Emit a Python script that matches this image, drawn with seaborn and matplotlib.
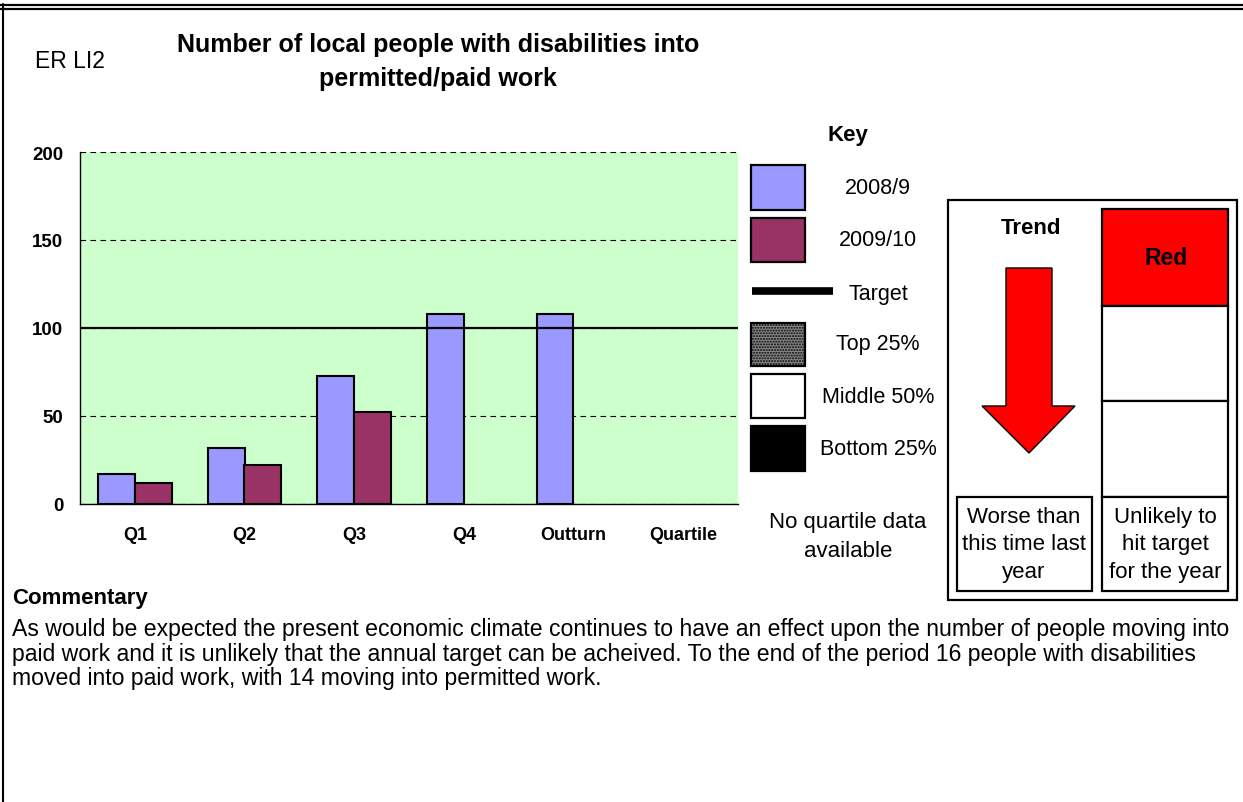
import numpy as np
import pandas as pd
import matplotlib
matplotlib.use("Agg")
import matplotlib.pyplot as plt
from matplotlib.patches import Rectangle, Polygon
import seaborn as sns

# ---- data -------------------------------------------------------------
categories = ["Q1", "Q2", "Q3", "Q4", "Outturn", "Quartile"]
periods = ["Q1", "Q2", "Q3", "Q4", "Outturn"]
years = ["2008/9", "2009/10"]
values_2008_9 = [17, 32, 73, 108, 108]
values_2009_10 = [12, 22, 52, np.nan, np.nan]
target = 100
y_ticks = [0, 50, 100, 150, 200]

key_labels = ["2008/9", "2009/10", "Target", "Top 25%", "Middle 50%", "Bottom 25%"]

# ---- style ------------------------------------------------------------
sns.set_style("white")
plt.rcParams["font.family"] = ["Liberation Sans", "DejaVu Sans"]
plt.rcParams["text.color"] = "black"
plt.rcParams["xtick.color"] = "black"
plt.rcParams["ytick.color"] = "black"
plt.rcParams["axes.labelcolor"] = "black"
plt.rcParams["hatch.linewidth"] = 1.0

BLUE = "#9999FF"
MAROON = "#993366"
GREEN = "#CCFFCC"
RED = "#FF0000"

df = pd.DataFrame({
    "period": periods * 2,
    "year": [years[0]] * len(periods) + [years[1]] * len(periods),
    "value": values_2008_9 + values_2009_10,
}).dropna()

W, H = 1243, 803
fig = plt.figure(figsize=(W / 100, H / 100), dpi=100)

# page-level canvas in pixel units for the surrounding layout
page = fig.add_axes([0, 0, 1, 1])
page.set_xlim(0, W)
page.set_ylim(H, 0)
page.axis("off")

# ---- bar chart ----------------------------------------------------------
ax = fig.add_axes([80 / W, 1 - 505 / H, 658 / W, 352 / H])
ax.set_facecolor(GREEN)
sns.barplot(data=df, x="period", y="value", hue="year",
            order=categories, hue_order=years,
            palette=[BLUE, MAROON], saturation=1, width=0.67, gap=0,
            edgecolor="black", linewidth=1.5, legend=False, ax=ax)
ax.axhline(target, color="black", lw=1.6, zorder=5)

ax.set_ylim(0, 200)
ax.set_xlim(-0.5, len(categories) - 0.5)
ax.set_yticks(y_ticks)
ax.set_axisbelow(True)
ax.yaxis.grid(True, color="black", ls=(0, (5, 4)), lw=0.8)
ax.xaxis.grid(False)
for s in ["top", "right"]:
    ax.spines[s].set_visible(False)
for s in ["left", "bottom"]:
    ax.spines[s].set_color("black")
    ax.spines[s].set_linewidth(1.0)

ax.set_xlabel("")
ax.set_ylabel("")
ax.set_xticks(range(len(categories)))
ax.set_xticklabels(categories, fontweight="bold", fontsize=13)
ax.set_xticks(np.arange(-0.5, len(categories)), minor=True)
ax.tick_params(axis="x", which="major", length=0, pad=16)
ax.tick_params(axis="x", which="minor", length=4, width=1, color="black",
               direction="out")
ax.tick_params(axis="y", length=5, width=1, color="black", direction="out",
               pad=7, labelsize=13.5)
for lbl in ax.get_yticklabels():
    lbl.set_fontweight("bold")

# ---- page frame -------------------------------------------------------
page.plot([0, W], [5.5, 5.5], color="black", lw=1.6, solid_capstyle="butt")
page.plot([0, W], [9.5, 9.5], color="black", lw=1.6, solid_capstyle="butt")
page.plot([3, 3], [5, H], color="black", lw=1.5)

# ---- titles -------------------------------------------------------------
page.text(70, 61, "ER LI2", fontsize=16.5, ha="center", va="center")
page.text(438, 62, "Number of local people with disabilities into\npermitted/paid work",
          fontsize=18, fontweight="bold", ha="center", va="center",
          linespacing=1.5)

# ---- key ----------------------------------------------------------------
page.text(848, 136, "Key", fontsize=16, fontweight="bold", ha="center", va="center")
sw_x0, sw_x1 = 751, 805
swatches = [
    (166, 211, dict(facecolor=BLUE)),
    (219, 263, dict(facecolor=MAROON)),
    None,
    (324, 367, dict(facecolor="#8a8a8a", hatch="......")),
    (375, 419, dict(facecolor="white")),
    (427, 472, dict(facecolor="black")),
]
text_y = [188, 241, 295, 345, 398, 450]
for sw, label, ty in zip(swatches, key_labels, text_y):
    if sw is None:
        page.plot([752, 833], [292, 292], color="black", lw=5.5,
                  solid_capstyle="butt")
    else:
        y0, y1, kw = sw
        page.add_patch(Rectangle((sw_x0, y0), sw_x1 - sw_x0, y1 - y0,
                                 edgecolor="black", lw=1.6, **kw))
    page.text(878, ty, label, fontsize=15.5, ha="center", va="center")

page.text(848, 537, "No quartile data\navailable", fontsize=16, ha="center",
          va="center", linespacing=1.45)

# ---- trend / RAG panel -------------------------------------------------
page.add_patch(Rectangle((948, 201), 1237 - 948, 601 - 201, facecolor="white",
                         edgecolor="black", lw=1.6))
page.text(1031, 228, "Trend", fontsize=16, fontweight="bold", ha="center",
          va="center")
arrow = Polygon([(1006, 269), (1052, 269), (1052, 407), (1075, 407),
                 (1029, 454), (982, 407), (1006, 407)],
                closed=True, facecolor=RED, edgecolor="black", lw=1.0)
page.add_patch(arrow)

col_x0, col_x1 = 1102, 1228
page.add_patch(Rectangle((col_x0, 210), col_x1 - col_x0, 307 - 210,
                         facecolor=RED, edgecolor="black", lw=1.6))
page.add_patch(Rectangle((col_x0, 307), col_x1 - col_x0, 402 - 307,
                         facecolor="white", edgecolor="black", lw=1.6))
page.add_patch(Rectangle((col_x0, 402), col_x1 - col_x0, 498 - 402,
                         facecolor="white", edgecolor="black", lw=1.6))
page.add_patch(Rectangle((col_x0, 498), col_x1 - col_x0, 592 - 498,
                         facecolor="white", edgecolor="black", lw=1.6))
page.text(1166, 259, "Red", fontsize=16.5, fontweight="bold", ha="center",
          va="center")

page.add_patch(Rectangle((957, 498), 1092 - 957, 592 - 498,
                         facecolor="white", edgecolor="black", lw=1.6))
page.text(1024, 545, "Worse than\nthis time last\nyear", fontsize=16,
          ha="center", va="center", linespacing=1.38)
page.text(1165, 545, "Unlikely to\nhit target\nfor the year", fontsize=16,
          ha="center", va="center", linespacing=1.38)

# ---- commentary --------------------------------------------------------
page.text(12, 599, "Commentary", fontsize=16, fontweight="bold", ha="left",
          va="center")
commentary = [
    "As would be expected the present economic climate continues to have an effect upon the number of people moving into",
    "paid work and it is unlikely that the annual target can be acheived. To the end of the period 16 people with disabilities",
    "moved into paid work, with 14 moving into permitted work.",
]
for i, line in enumerate(commentary):
    page.text(12, 630 + i * 24.5, line, fontsize=16.6, ha="left", va="center")

fig.savefig("out.png", dpi=100)
